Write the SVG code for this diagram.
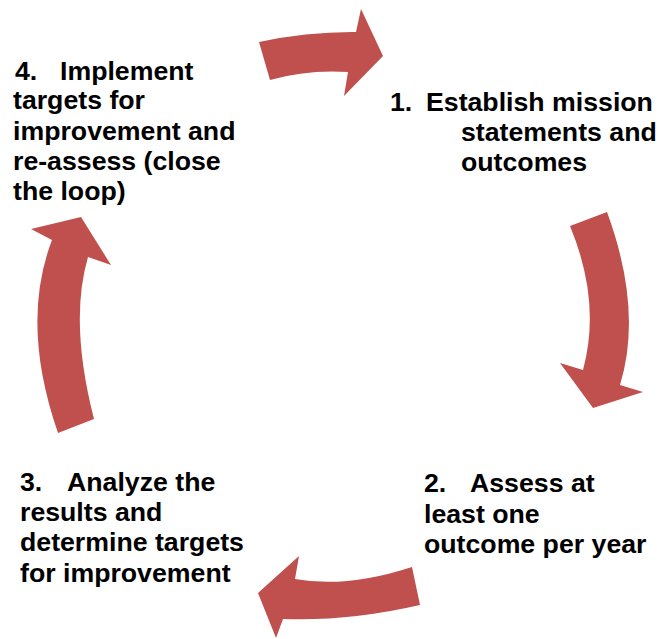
<svg xmlns="http://www.w3.org/2000/svg" width="659" height="639" viewBox="0 0 659 639">
  <style>
    .arrow { fill: #C0504D; stroke: none; }
    .label { font-family: "Liberation Sans", Arial, sans-serif; font-weight: bold; font-size: 26.7px; fill: #000000; }
  </style>
  <rect width="659" height="639" fill="#ffffff"/>

  <!-- curved block arrows forming the cycle -->
  <g id="connectors">
    <path id="arrow-4-to-1" class="arrow" d="M259,42 Q307,31.6 356,32 L361,9 L383,56 L344,96 L348,72 Q307,69.4 270,80 Z"/>
    <path id="arrow-1-to-2" class="arrow" d="M570,226 L607,212 Q643,310 620,385 L643,392 L593,408 L560,363 L583,370 Q601.5,302 570,226 Z"/>
    <path id="arrow-2-to-3" class="arrow" d="M412,567 L420,605 Q348.5,621.4 283,619 L276,638 L258,593 L299,556 L295,579 Q346.5,588.4 412,567 Z"/>
    <path id="arrow-3-to-4" class="arrow" d="M58,433 L94,419 Q69,322 88,257 L111,265 L81,217 L31,229 L52,240 Q20,323.5 58,433 Z"/>
  </g>

  <!-- step labels -->
  <g id="step-1">
    <text class="label" y="111"><tspan x="390">1.</tspan><tspan x="426">Establish mission</tspan></text>
    <text class="label" x="461" y="141">statements and</text>
    <text class="label" x="461" y="171">outcomes</text>
  </g>

  <g id="step-2">
    <text class="label" y="492"><tspan x="424">2.</tspan><tspan x="470">Assess at</tspan></text>
    <text class="label" x="424" y="523">least one</text>
    <text class="label" x="424" y="553">outcome per year</text>
  </g>

  <g id="step-3">
    <text class="label" y="491"><tspan x="20">3.</tspan><tspan x="67">Analyze the</tspan></text>
    <text class="label" x="20" y="521">results and</text>
    <text class="label" x="20" y="551">determine targets</text>
    <text class="label" x="20" y="582">for improvement</text>
  </g>

  <g id="step-4">
    <text class="label" y="80"><tspan x="15">4.</tspan><tspan x="60">Implement</tspan></text>
    <text class="label" x="13" y="109">targets for</text>
    <text class="label" x="13" y="140">improvement and</text>
    <text class="label" x="13" y="170">re-assess (close</text>
    <text class="label" x="13" y="200">the loop)</text>
  </g>
</svg>
